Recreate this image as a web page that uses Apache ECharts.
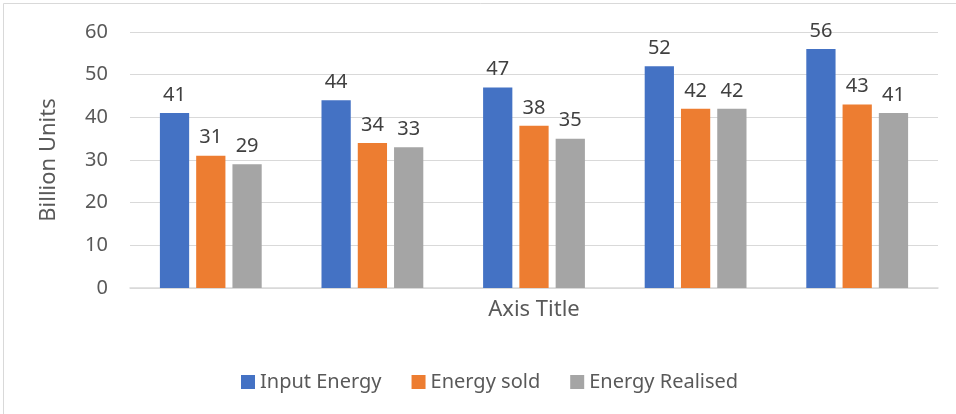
<!DOCTYPE html>
<html>
<head>
<meta charset="utf-8">
<script src="https://cdn.jsdelivr.net/npm/echarts@6/dist/echarts.min.js"></script>
<style>
  html, body { margin: 0; padding: 0; background: #fff; }
  #chart { width: 956px; height: 414px; }
</style>
</head>
<body>
<div id="chart"></div>
<script>
// Five yearly groups (labels are not shown on the axis)
const categories = ['Year 1', 'Year 2', 'Year 3', 'Year 4', 'Year 5'];
const inputEnergy = [41, 44, 47, 52, 56];
const energySold = [31, 34, 38, 42, 43];
const energyRealised = [29, 33, 35, 42, 41];
const yTicks = [0, 10, 20, 30, 40, 50, 60];

const FONT = '"Noto Sans", sans-serif';
const chart = echarts.init(document.getElementById('chart'), null, { renderer: 'canvas' });

const labelStyle = {
  show: true,
  position: 'top',
  distance: 8,
  color: '#404040',
  fontSize: 20,
  fontFamily: FONT
};

function barSeries(name, data, color) {
  return {
    name: name,
    type: 'bar',
    data: data,
    barGap: '24%',
    barCategoryGap: '37%',
    itemStyle: { color: color },
    label: labelStyle
  };
}

chart.setOption({
  animation: false,
  textStyle: { fontFamily: FONT },
  graphic: [{
    type: 'rect',
    shape: { x: 3.5, y: 3.5, width: 1000, height: 500 },
    style: { fill: 'none', stroke: '#d9d9d9', lineWidth: 1 },
    silent: true
  }],
  grid: { left: 130, right: 18, top: 32, bottom: 126 },
  legend: {
    left: 236,
    top: 367,
    itemWidth: 14,
    itemHeight: 14,
    itemGap: 30,
    icon: 'rect',
    textStyle: { color: '#595959', fontSize: 20, fontFamily: FONT }
  },
  xAxis: {
    type: 'category',
    data: categories,
    name: 'Axis Title',
    nameLocation: 'middle',
    nameGap: 11,
    nameTextStyle: { color: '#595959', fontSize: 22, fontFamily: FONT, verticalAlign: 'top' },
    axisLine: { lineStyle: { color: '#d9d9d9', width: 1.5 } },
    axisTick: { show: false },
    axisLabel: { show: false }
  },
  yAxis: {
    type: 'value',
    min: yTicks[0],
    max: yTicks[yTicks.length - 1],
    interval: 10,
    name: 'Billion Units',
    nameLocation: 'middle',
    nameGap: 70,
    nameTextStyle: { color: '#595959', fontSize: 22, fontFamily: FONT },
    axisLine: { show: false },
    axisTick: { show: false },
    axisLabel: { color: '#595959', fontSize: 20, fontFamily: FONT, margin: 22 },
    splitLine: { lineStyle: { color: '#d9d9d9', width: 1 } }
  },
  series: [
    barSeries('Input Energy', inputEnergy, '#4472C4'),
    barSeries('Energy sold', energySold, '#ED7D31'),
    barSeries('Energy Realised', energyRealised, '#A5A5A5')
  ]
});
</script>
</body>
</html>
